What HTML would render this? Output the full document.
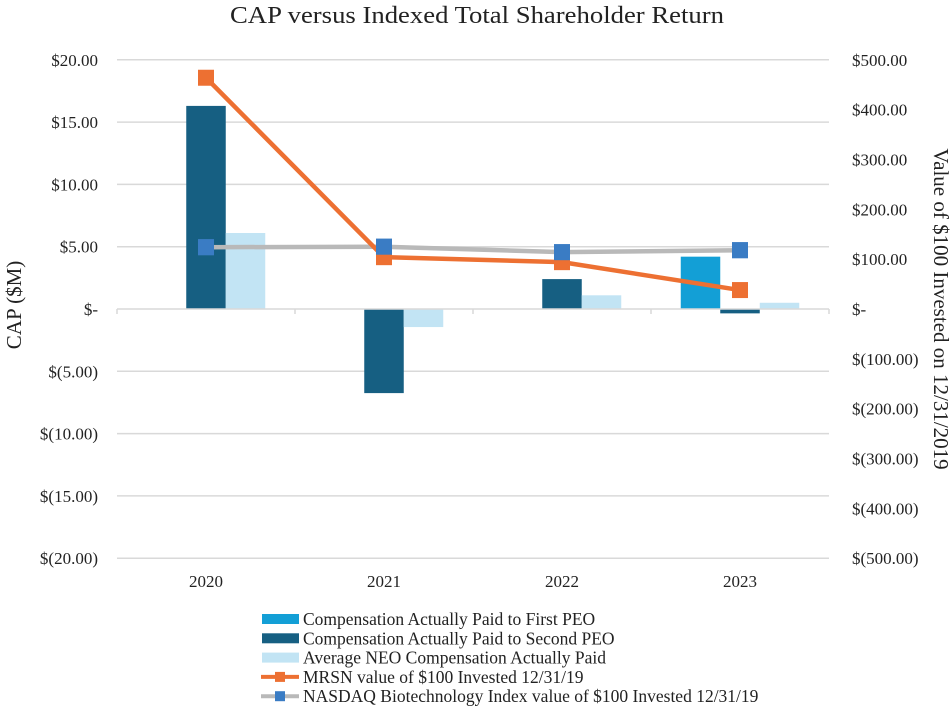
<!DOCTYPE html>
<html><head><meta charset="utf-8"><style>
html,body{margin:0;padding:0;background:#fff;}
svg{display:block;font-family:"Liberation Serif","DejaVu Serif",serif;}
</style></head><body>
<svg id="chart" width="951" height="707" viewBox="0 0 951 707">
<text x="477" y="23" text-anchor="middle" font-size="24" fill="#222" textLength="494" lengthAdjust="spacingAndGlyphs">CAP versus Indexed Total Shareholder Return</text>
<g id="grid"></g>
<g id="bars"></g>
<g id="lines"></g>
<g id="axes"></g>
<text transform="translate(21,305) rotate(-90)" text-anchor="middle" font-size="21" fill="#222">CAP ($M)</text>
<text transform="translate(934,309) rotate(90)" text-anchor="middle" font-size="21" fill="#222">Value of $100 Invested on 12/31/2019</text>
<g id="legend"></g>
</svg>
<script>
const categories = ["2020","2021","2022","2023"];
const firstPEO = [0, 0, 0, 4.2];
const secondPEO = [16.3, -6.75, 2.4, -0.35];
const avgNEO = [6.1, -1.45, 1.1, 0.5];
const mrsn = [464, 104, 94, 38];
const nasdaq = [124, 125, 114, 118];
const leftTicks = [20, 15, 10, 5, 0, -5, -10, -15, -20];
const leftTickLabels = ["$20.00","$15.00","$10.00","$5.00","$-","$(5.00)","$(10.00)","$(15.00)","$(20.00)"];
const rightTicks = [500, 400, 300, 200, 100, 0, -100, -200, -300, -400, -500];
const rightTickLabels = ["$500.00","$400.00","$300.00","$200.00","$100.00","$-","$(100.00)","$(200.00)","$(300.00)","$(400.00)","$(500.00)"];

const NS = "http://www.w3.org/2000/svg";
const X0 = 117, X1 = 829, Y0 = 309, PX = 12.46;
const band = (X1 - X0) / categories.length;
const yL = v => Y0 - v * PX;
const yR = v => Y0 - v * PX / 25;
const xC = i => X0 + band * (i + 0.5);
const BW = 39.5;
function mk(tag, attrs, parent){const e=document.createElementNS(NS,tag);for(const k in attrs)e.setAttribute(k,attrs[k]);parent.appendChild(e);return e;}
const grid=document.getElementById('grid'), bars=document.getElementById('bars'), lines=document.getElementById('lines'), axes=document.getElementById('axes'), legend=document.getElementById('legend');

leftTicks.forEach((t,i)=>{
  if(t!==0){const l=mk('line',{x1:X0,x2:X1,y1:yL(t),y2:yL(t),stroke:'#d9d9d9','stroke-width':1.5},grid);
  
  }
  const tx=mk('text',{x:98,y:yL(t)+6,'text-anchor':'end','font-size':17,fill:'#222'},axes);
  tx.textContent=leftTickLabels[i];
  
  
});
rightTicks.forEach((t,i)=>{
  const tx=mk('text',{x:852,y:yR(t)+6,'font-size':17,fill:'#222'},axes);
  tx.textContent=rightTickLabels[i];
  
  
});
categories.forEach((c,i)=>{
  const tx=mk('text',{x:xC(i),y:587,'text-anchor':'middle','font-size':17,fill:'#222'},axes);
  tx.textContent=c;
  
  
  const series=[[firstPEO,'#139fd6'],[secondPEO,'#165f82'],[avgNEO,'#c2e4f4']];
  series.forEach(([arr,col],j)=>{
    const v=arr[i]; if(v===0) return;
    const x=xC(i)-1.5*BW+j*BW;
    const r=mk('rect',{x:x,y:Math.min(yL(v),Y0),width:BW,height:Math.abs(yL(v)-Y0),fill:col},bars);
    
    
  });
});
const zl=mk('line',{x1:X0,x2:X1,y1:Y0,y2:Y0,stroke:'#d9d9d9','stroke-width':1.5},axes);


for(let i=0;i<=categories.length;i++){
  const tk=mk('line',{x1:X0+band*i,x2:X0+band*i,y1:Y0,y2:Y0+5,stroke:'#d9d9d9','stroke-width':1.5},axes);
  
  
}
function drawLine(arr,col,mcol,name){
  const pts=arr.map((v,i)=>xC(i)+','+yR(v)).join(' ');
  const pl=mk('polyline',{points:pts,fill:'none',stroke:col,'stroke-width':4.5,'stroke-linejoin':'round'},lines);
  
  
  arr.forEach((v,i)=>{
    const m=mk('rect',{x:xC(i)-8,y:yR(v)-8,width:16,height:16,fill:mcol},lines);
    
    
  });
}
drawLine(nasdaq,'#b9b9b9','#3a7cc4','nasdaq');
drawLine(mrsn,'#ed7032','#ed7032','mrsn');
nasdaq.forEach((v,i)=>{
  const m=mk('rect',{x:xC(i)-8,y:yR(v)-8,width:16,height:16,fill:'#3a7cc4'},lines);
  
  
});

const legItems=[
  ['box','#139fd6','Compensation Actually Paid to First PEO','legend-first-peo'],
  ['box','#165f82','Compensation Actually Paid to Second PEO','legend-second-peo'],
  ['box','#c2e4f4','Average NEO Compensation Actually Paid','legend-avg-neo'],
  ['line','#ed7032','MRSN value of $100 Invested 12/31/19','legend-mrsn'],
  ['line','#b9b9b9','NASDAQ Biotechnology Index value of $100 Invested 12/31/19','legend-nasdaq']
];
legItems.forEach((it,i)=>{
  const cy=619+i*19.3;
  const g=mk('g',{},legend);
  
  
  if(it[0]==='box'){mk('rect',{x:262,y:cy-5,width:37,height:10,fill:it[1]},g);}
  else{mk('line',{x1:261,x2:299,y1:cy,y2:cy,stroke:it[1],'stroke-width':4},g);
    mk('rect',{x:275,y:cy-5,width:10,height:10,fill:i===3?'#ed7032':'#3a7cc4'},g);}
  const t=mk('text',{x:303,y:cy+6,'font-size':17.5,fill:'#222'},g);
  t.textContent=it[2];
});
</script>
</body></html>
